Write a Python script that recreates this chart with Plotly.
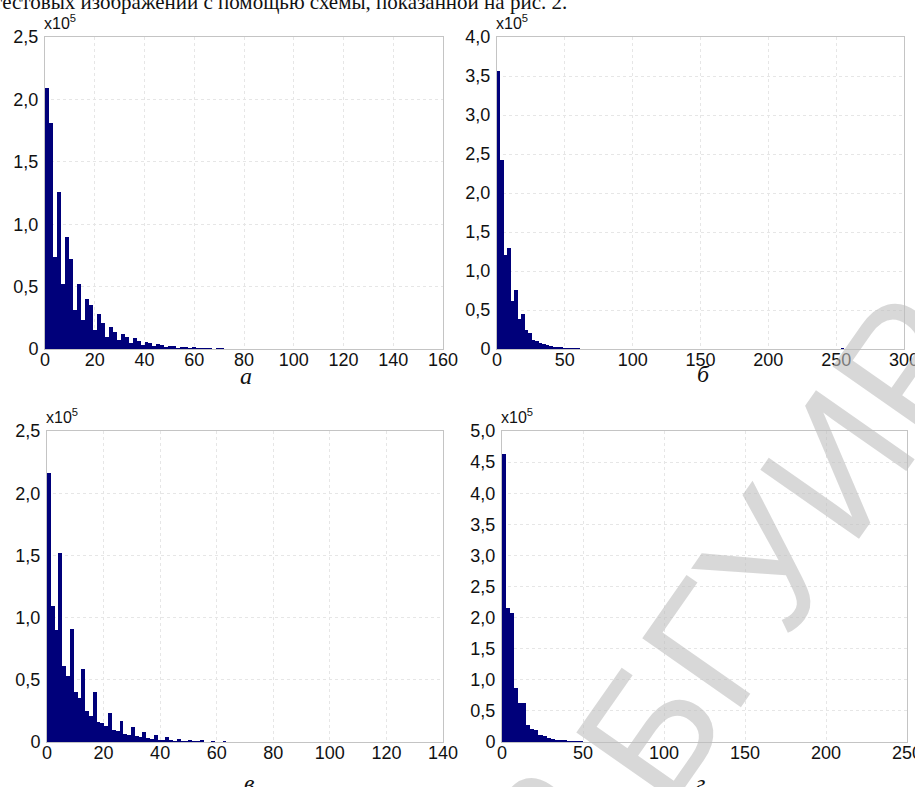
import plotly.graph_objects as go

W, H = 915, 787

# ---- data (counts in units of 1e5) ----
a_bin = 1.6
a_counts = [2.09, 1.81, 0.74, 1.26, 0.52, 0.90, 0.72, 0.31, 0.52, 0.23, 0.40, 0.35, 0.15, 0.28,
            0.21, 0.10, 0.18, 0.14, 0.07, 0.12, 0.10, 0.05, 0.085, 0.065, 0.035, 0.06, 0.05,
            0.025, 0.042, 0.033, 0.016, 0.028, 0.022, 0.011, 0.019, 0.015, 0.008, 0.013, 0.010,
            0.005, 0.009, 0.007, 0.004, 0.006, 0.005, 0.003, 0.004, 0.003, 0.002, 0.003, 0.002]
b_bin = 2.56
b_counts = [3.56, 2.42, 1.20, 1.30, 0.61, 0.76, 0.39, 0.45, 0.24, 0.21, 0.12, 0.10, 0.08,
            0.065, 0.05, 0.04, 0.03, 0.025, 0.02, 0.016, 0.012, 0.01, 0.008, 0.007, 0.006,
            0.005, 0.004, 0.003, 0.003, 0.002]
b_last = 0.008  # small bin at the very end (value 255)
c_bin = 1.35
c_counts = [2.16, 1.09, 0.90, 1.52, 0.61, 0.53, 0.91, 0.40, 0.35, 0.59, 0.25, 0.21, 0.40,
            0.16, 0.15, 0.13, 0.23, 0.10, 0.09, 0.17, 0.065, 0.055, 0.12, 0.045, 0.04, 0.08,
            0.03, 0.025, 0.055, 0.02, 0.017, 0.04, 0.013, 0.011, 0.028, 0.009, 0.008, 0.02,
            0.006, 0.005, 0.014, 0.004, 0.004, 0.01, 0.003, 0.003, 0.007, 0.002, 0.002]
d_bin = 2.5
d_counts = [4.63, 2.16, 2.08, 0.87, 0.63, 0.63, 0.27, 0.21, 0.20, 0.12, 0.09, 0.07, 0.05,
            0.04, 0.03, 0.025, 0.02, 0.015, 0.012, 0.01, 0.008, 0.006, 0.005, 0.004, 0.003]

a_xticks = [0, 20, 40, 60, 80, 100, 120, 140, 160]
b_xticks = [0, 50, 100, 150, 200, 250, 300]
c_xticks = [0, 20, 40, 60, 80, 100, 120, 140]
d_xticks = [0, 50, 100, 150, 200, 250]
a_yticks = [0, 0.5, 1.0, 1.5, 2.0, 2.5]
b_yticks = [0, 0.5, 1.0, 1.5, 2.0, 2.5, 3.0, 3.5, 4.0]
c_yticks = [0, 0.5, 1.0, 1.5, 2.0, 2.5]
d_yticks = [0, 0.5, 1.0, 1.5, 2.0, 2.5, 3.0, 3.5, 4.0, 4.5, 5.0]
panel_letters = ["а", "б", "в", "г"]
caption = "тестовых изображений с помощью схемы, показанной на рис. 2."
watermark = "БГУИР"


def ylab(v):
    return "0" if v == 0 else f"{v:.1f}".replace(".", ",")


BAR = "#00007a"
GRID = "#e6e6e6"
FRAME = "#c4c4c4"
TICKFONT = dict(family="Liberation Sans", size=18, color="#111")
WM = dict(family="Liberation Sans", size=175, color="rgba(190,190,190,0.6)")
fig = go.Figure()

panels = [
    # counts, bin, xticks, yticks, (left,right,top,bottom px)
    (a_counts, a_bin, a_xticks, a_yticks, (45, 443, 37, 349)),
    (b_counts, b_bin, b_xticks, b_yticks, (497, 904, 37, 349)),
    (c_counts, c_bin, c_xticks, c_yticks, (47, 443, 431, 742)),
    (d_counts, d_bin, d_xticks, d_yticks, (502, 907, 431, 742)),
]

for i, (cnt, bw, xt, yt, (l, r, t, b)) in enumerate(panels):
    n = i + 1
    xs = [(k + 0.5) * bw for k in range(len(cnt))]
    ys = list(cnt)
    if i == 1:
        xs.append(99.5 * bw)
        ys.append(b_last)
    fig.add_trace(go.Bar(x=xs, y=ys, width=bw, marker=dict(color=BAR, line=dict(width=0)),
                         xaxis=f"x{n}", yaxis=f"y{n}", showlegend=False, hoverinfo="skip"))
    ax = dict(domain=[l / W, r / W], range=[xt[0], xt[-1]], tickvals=xt,
              ticktext=[str(v) for v in xt], showgrid=True, gridcolor=GRID,
              griddash="dot", gridwidth=1, showline=True, mirror=True, linecolor=FRAME,
              linewidth=1, ticks="", zeroline=False, anchor=f"y{n}", automargin=False,
              ticklabelstandoff=-6, ticklabeloverflow="allow", tickfont=TICKFONT)
    ay = dict(domain=[1 - b / H, 1 - t / H], range=[yt[0], yt[-1]], tickvals=yt,
              ticktext=[ylab(v) for v in yt], showgrid=True, gridcolor=GRID,
              griddash="dot", gridwidth=1, showline=True, mirror=True, linecolor=FRAME,
              linewidth=1, ticks="", zeroline=False, anchor=f"x{n}", automargin=False,
              ticklabelstandoff=2, ticklabeloverflow="allow", tickfont=TICKFONT)
    fig.layout[f"xaxis{'' if n == 1 else n}"] = ax
    fig.layout[f"yaxis{'' if n == 1 else n}"] = ay
    # x10^5 label
    fig.add_annotation(xref="paper", yref="paper", x=(l - 3) / W, y=1 - (t - 3) / H,
                       xanchor="left", yanchor="bottom", showarrow=False,
                       text="x10<sup>5</sup>",
                       font=dict(family="Liberation Sans", size=16, color="#111"))

letter_pos = [(246, 376), (703, 374), (249, 783), (700, 783)]
for txt, (px, py) in zip(panel_letters, letter_pos):
    fig.add_annotation(xref="paper", yref="paper", x=px / W, y=1 - py / H,
                       xanchor="center", yanchor="middle", showarrow=False,
                       text=f"<i>{txt}</i>",
                       font=dict(family="Liberation Serif", size=24, color="#111"))

fig.add_annotation(xref="paper", yref="paper", x=-9 / W, y=1 - 2 / H, xanchor="left",
                   yanchor="middle", showarrow=False, text=caption,
                   font=dict(family="Liberation Serif", size=21, color="#111"))

# watermark
fig.add_annotation(xref="paper", yref="paper", x=778 / W, y=1 - 548 / H, xanchor="center",
                   yanchor="middle", showarrow=False, text=watermark, textangle=-55, font=WM)
fig.add_annotation(xref="paper", yref="paper", x=532 / W, y=1 - 814 / H, xanchor="center",
                   yanchor="middle", showarrow=False, text="а", textangle=-55, font=WM)

fig.update_layout(width=W, height=H, margin=dict(l=0, r=0, t=0, b=0, autoexpand=False),
                  paper_bgcolor="white", plot_bgcolor="white", bargap=0, hovermode=False)
fig.write_html("out.html", config={"displayModeBar": False, "staticPlot": True},
               post_script="document.body.style.margin='0';document.body.style.overflow='hidden';")
